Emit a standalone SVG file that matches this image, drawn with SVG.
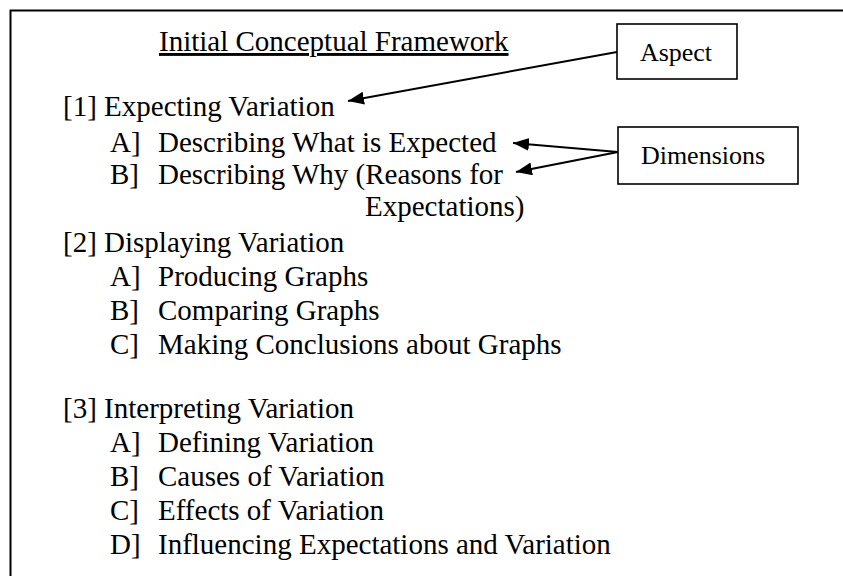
<svg xmlns="http://www.w3.org/2000/svg" width="843" height="576" viewBox="0 0 843 576">
<style>
  .t { font-family: "Liberation Serif", "Times New Roman", serif; font-size: 29px; fill: #000; }
  .lbl { font-family: "Liberation Serif", "Times New Roman", serif; font-size: 26px; fill: #000; text-anchor: middle; }
  .box { fill: #fff; stroke: #000; stroke-width: 1.6; }
  .conn { stroke: #000; stroke-width: 2; fill: none; }
  .frame { stroke: #000; stroke-width: 2; fill: none; }
</style>
<defs>
  <marker id="ah" markerUnits="userSpaceOnUse" markerWidth="18" markerHeight="14" refX="16" refY="6.5" orient="auto">
    <path d="M0,0 L16,6.5 L0,13 Z" fill="#000"/>
  </marker>
</defs>
<rect width="843" height="576" fill="#fff"/>
<path class="frame" d="M10.5,576 L10.5,10.5 L843,10.5"/>

<g id="title">
  <text class="t" x="159" y="51" text-decoration="underline">Initial Conceptual Framework</text>
</g>

<g id="aspect1">
  <text class="t" x="63" y="116">[1] Expecting Variation</text>
  <text class="t" y="152"><tspan x="110">A]</tspan><tspan x="158">Describing What is Expected</tspan></text>
  <text class="t" y="184"><tspan x="110">B]</tspan><tspan x="158">Describing Why (Reasons for</tspan></text>
  <text class="t" x="365" y="216">Expectations)</text>
</g>

<g id="aspect2">
  <text class="t" x="63" y="252">[2] Displaying Variation</text>
  <text class="t" y="286"><tspan x="110">A]</tspan><tspan x="158">Producing Graphs</tspan></text>
  <text class="t" y="320"><tspan x="110">B]</tspan><tspan x="158">Comparing Graphs</tspan></text>
  <text class="t" y="354"><tspan x="110">C]</tspan><tspan x="158">Making Conclusions about Graphs</tspan></text>
</g>

<g id="aspect3">
  <text class="t" x="63" y="418">[3] Interpreting Variation</text>
  <text class="t" y="452"><tspan x="110">A]</tspan><tspan x="158">Defining Variation</tspan></text>
  <text class="t" y="486"><tspan x="110">B]</tspan><tspan x="158">Causes of Variation</tspan></text>
  <text class="t" y="520"><tspan x="110">C]</tspan><tspan x="158">Effects of Variation</tspan></text>
  <text class="t" y="554"><tspan x="110">D]</tspan><tspan x="158">Influencing Expectations and Variation</tspan></text>
</g>

<g id="aspect-box">
  <rect class="box" x="617" y="24" width="120" height="55"/>
  <text class="lbl" x="676" y="61">Aspect</text>
</g>

<g id="dimensions-box">
  <rect class="box" x="618" y="127" width="180" height="57"/>
  <text class="lbl" x="703" y="164">Dimensions</text>
</g>

<g id="connectors">
  <line class="conn" x1="617" y1="52" x2="348" y2="101" marker-end="url(#ah)"/>
  <line class="conn" x1="618" y1="152" x2="513" y2="143" marker-end="url(#ah)"/>
  <line class="conn" x1="618" y1="152" x2="516" y2="172" marker-end="url(#ah)"/>
</g>
</svg>
